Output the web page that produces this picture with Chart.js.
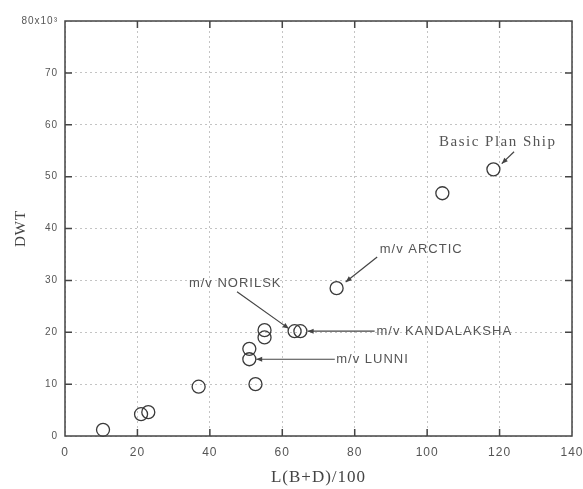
<!DOCTYPE html>
<html>
<head>
<meta charset="utf-8">
<script src="https://cdn.jsdelivr.net/npm/chart.js@4.4.1/dist/chart.umd.min.js"></script>
<style>
  html, body { margin: 0; padding: 0; background: #fff; }
</style>
</head>
<body>
<canvas id="dwt" width="583" height="489"></canvas>
<script>
// ship data: L(B+D)/100 vs DWT (x10^3)
var lbd = [10.5, 21.0, 23.0, 36.9, 50.9, 50.9, 52.6, 55.1, 55.1, 63.4, 65.0, 75.0, 104.2, 118.3];
var dwt = [1.2, 4.2, 4.6, 9.5, 16.8, 14.8, 10.0, 20.4, 19.0, 20.2, 20.2, 28.5, 46.8, 51.4];

var xTicks = [0, 20, 40, 60, 80, 100, 120, 140];
var yTicks = [0, 10, 20, 30, 40, 50, 60, 70, 80];

// callouts, in data units
var noteText  = ['Basic Plan Ship', 'm/v ARCTIC', 'm/v NORILSK', 'm/v KANDALAKSHA', 'm/v LUNNI'];
var noteAt    = [[119.5, 56.7], [86.9, 36.0], [47.0, 29.4], [86.0, 20.1], [74.9, 14.8]];
var noteFrom  = [[124.0, 54.8], [86.2, 34.5], [47.5, 27.8], [85.5, 20.2], [74.5, 14.8]];
var noteTo    = [[120.6, 52.5], [77.5, 29.7], [61.8, 20.7], [67.0, 20.2], [52.8, 14.8]];
var noteAlign = ['center', 'left', 'center', 'left', 'left'];

var points = [];
for (var i = 0; i < lbd.length; i++) {
  points.push({x: lbd[i], y: dwt[i]});
}

var spacing = {
  id: 'spacing',
  beforeDraw: function(chart){
    chart.ctx.letterSpacing = '1px';
  }
};

// plot frame with inward ticks on all four sides
var frame = {
  id: 'frame',
  afterDraw: function(chart){
    var ctx = chart.ctx, a = chart.chartArea;
    var sx = chart.scales.x, sy = chart.scales.y;
    ctx.save();
    ctx.strokeStyle = '#444';
    ctx.lineWidth = 1.5;
    ctx.strokeRect(a.left, a.top, a.right - a.left, a.bottom - a.top);
    ctx.beginPath();
    xTicks.slice(1, -1).forEach(function(v){
      var px = sx.getPixelForValue(v);
      ctx.moveTo(px, a.bottom); ctx.lineTo(px, a.bottom - 7);
      ctx.moveTo(px, a.top); ctx.lineTo(px, a.top + 7);
    });
    yTicks.slice(1, -1).forEach(function(v){
      var py = sy.getPixelForValue(v);
      ctx.moveTo(a.left, py); ctx.lineTo(a.left + 7, py);
      ctx.moveTo(a.right, py); ctx.lineTo(a.right - 7, py);
    });
    ctx.stroke();
    ctx.restore();
  }
};

// leader lines and ship names
var notes = {
  id: 'notes',
  afterDatasetsDraw: function(chart){
    var ctx = chart.ctx;
    var sx = chart.scales.x, sy = chart.scales.y;
    ctx.save();
    for (var i = 0; i < noteText.length; i++) {
      var x1 = sx.getPixelForValue(noteFrom[i][0]), y1 = sy.getPixelForValue(noteFrom[i][1]);
      var x2 = sx.getPixelForValue(noteTo[i][0]), y2 = sy.getPixelForValue(noteTo[i][1]);
      ctx.strokeStyle = '#444';
      ctx.fillStyle = '#444';
      ctx.lineWidth = 1.2;
      ctx.beginPath();
      ctx.moveTo(x1, y1); ctx.lineTo(x2, y2);
      ctx.stroke();
      var ang = Math.atan2(y2 - y1, x2 - x1);
      ctx.beginPath();
      ctx.moveTo(x2, y2);
      ctx.lineTo(x2 - 6 * Math.cos(ang) + 2.5 * Math.sin(ang), y2 - 6 * Math.sin(ang) - 2.5 * Math.cos(ang));
      ctx.lineTo(x2 - 6 * Math.cos(ang) - 2.5 * Math.sin(ang), y2 - 6 * Math.sin(ang) + 2.5 * Math.cos(ang));
      ctx.closePath();
      ctx.fill();

      ctx.fillStyle = '#555';
      if (i === 0) {
        ctx.font = '15px "Liberation Serif"';
        ctx.letterSpacing = '1.5px';
      } else {
        ctx.font = '13px "Liberation Sans"';
        ctx.letterSpacing = '1px';
      }
      ctx.textAlign = noteAlign[i];
      ctx.textBaseline = 'middle';
      ctx.fillText(noteText[i], sx.getPixelForValue(noteAt[i][0]), sy.getPixelForValue(noteAt[i][1]));
    }
    ctx.restore();
  }
};

var opt = {
  type: 'scatter',
  data: {
    datasets: [{
      data: points,
      pointStyle: 'circle',
      pointRadius: 6.5,
      pointBorderWidth: 1.3,
      borderColor: '#3a3a3a',
      backgroundColor: 'rgba(255,255,255,0)',
      clip: false
    }]
  },
  options: {
    responsive: false,
    animation: false,
    layout: { padding: { top: 21, right: 11, left: 0, bottom: 0 } },
    plugins: { legend: { display: false }, tooltip: { enabled: false } },
    scales: {
      x: {
        type: 'linear',
        min: 0, max: 140,
        afterFit: function(s){ s.height = 53; s.paddingLeft = 0; s.paddingRight = 0; },
        afterBuildTicks: function(s){ s.ticks = xTicks.map(function(v){ return {value: v}; }); },
        ticks: { color: '#555', font: { family: 'Liberation Sans', size: 12 }, padding: 9 },
        grid: { color: '#c4c4c4', lineWidth: 1, drawTicks: false, borderDash: [2, 3] },
        border: { display: false, dash: [2, 3] },
        title: {
          display: true, text: 'L(B+D)/100', color: '#444',
          font: { family: 'Liberation Serif', size: 17 },
          padding: { top: 0, bottom: 1 }
        }
      },
      y: {
        type: 'linear',
        min: 0, max: 80,
        afterFit: function(s){ s.width = 65; s.paddingTop = 0; s.paddingBottom = 0; },
        afterBuildTicks: function(s){ s.ticks = yTicks.map(function(v){ return {value: v}; }); },
        ticks: {
          color: '#555', font: { family: 'Liberation Sans', size: 10 }, padding: 7,
          callback: function(v){ return v === 80 ? '80x10\u00b3' : v; }
        },
        grid: { color: '#c4c4c4', lineWidth: 1, drawTicks: false, borderDash: [2, 3] },
        border: { display: false, dash: [2, 3] },
        title: {
          display: true, text: 'DWT', color: '#444',
          font: { family: 'Liberation Serif', size: 15 },
          padding: { top: 12, bottom: 0 }
        }
      }
    }
  },
  plugins: [spacing, notes, frame]
};

var chart = new Chart(document.getElementById('dwt'), opt);
</script>
</body>
</html>
